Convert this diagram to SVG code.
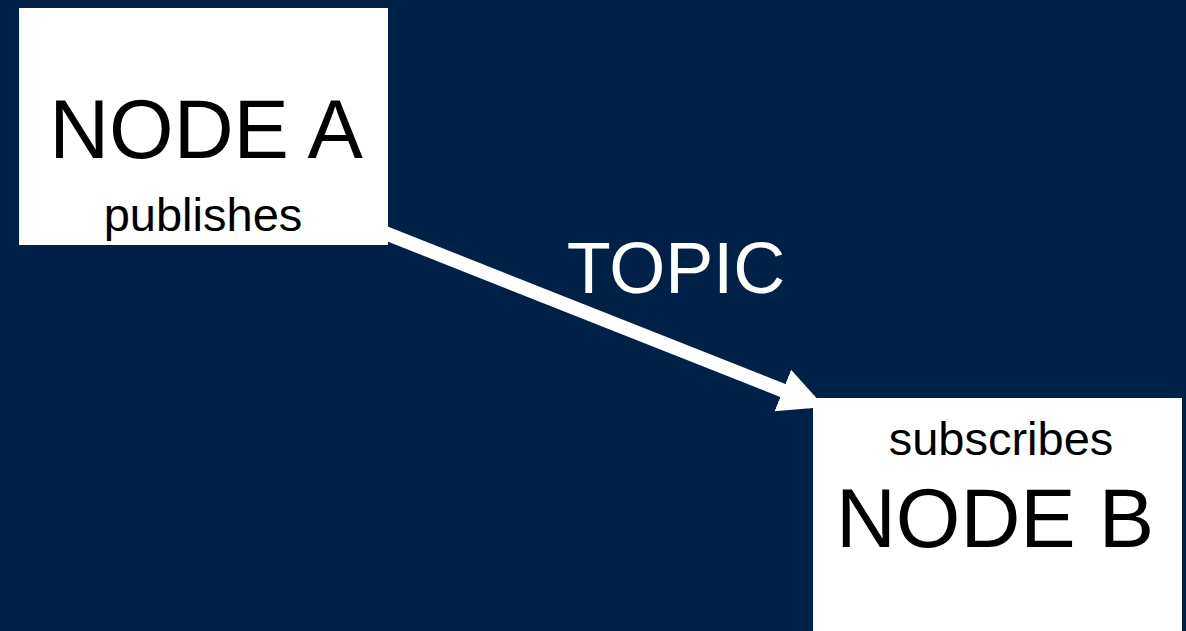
<svg xmlns="http://www.w3.org/2000/svg" width="1186" height="631" viewBox="0 0 1186 631">
  <style>
    .node { fill: #ffffff; }
    .label { font-family: "Liberation Sans", Arial, sans-serif; text-anchor: middle; fill: #000000; }
    .big { font-size: 83px; }
    .small { font-size: 47px; }
    .topic { font-family: "Liberation Sans", Arial, sans-serif; text-anchor: middle; fill: #ffffff; font-size: 72px; }
  </style>
  <defs>
    <marker id="head" viewBox="0 0 10 10" refX="7" refY="5" markerWidth="3.2" markerHeight="3.3" orient="auto" markerUnits="strokeWidth">
      <path d="M0,0 L10,5 L0,10 Z" fill="#ffffff"/>
    </marker>
  </defs>
  <rect width="1186" height="631" fill="#002147"/>

  <!-- publish/subscribe connector -->
  <g id="connectors">
    <line x1="380" y1="231" x2="812" y2="402" stroke="#ffffff" stroke-width="14" marker-end="url(#head)"/>
    <text class="topic" x="676" y="293">TOPIC</text>
  </g>

  <g id="node-a">
    <rect class="node" x="19" y="8" width="369" height="237"/>
    <text class="label big" x="206" y="158">NODE A</text>
    <text class="label small" x="203" y="231">publishes</text>
  </g>

  <g id="node-b">
    <rect class="node" x="813" y="398" width="369" height="233"/>
    <text class="label small" x="1001" y="455">subscribes</text>
    <text class="label big" x="995" y="547">NODE B</text>
  </g>
</svg>
